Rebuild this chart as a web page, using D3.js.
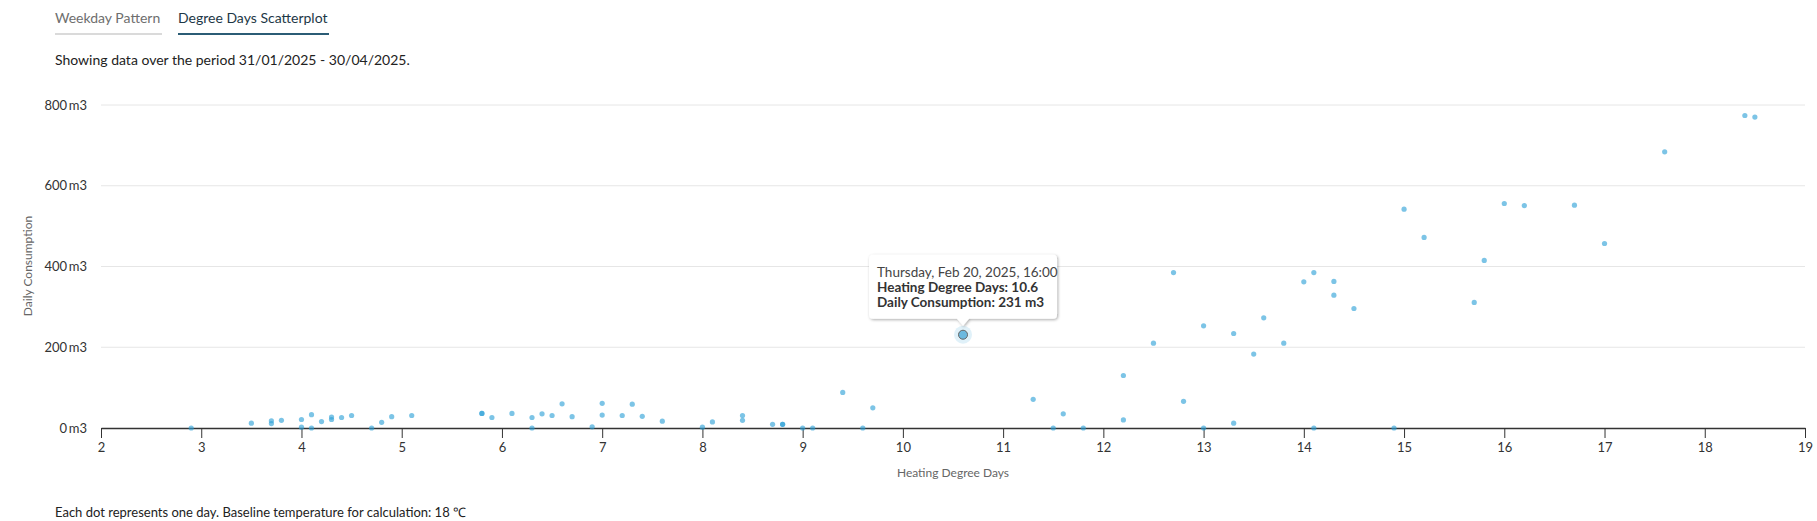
<!DOCTYPE html>
<html>
<head>
<meta charset="utf-8">
<script src="https://cdn.jsdelivr.net/npm/d3@7"></script>
<style>
  body { margin: 0; background: #fff; font-family: Lato, "Open Sans", sans-serif; }
  svg text { font-family: Lato, "Open Sans", sans-serif; }
</style>
</head>
<body>
<div id="chart"></div>
<script>
// heating degree days per day
var hdd = [2.9, 3.5, 3.7, 3.7, 3.8, 4.0, 4.0, 4.1, 4.1, 4.2, 4.3, 4.3, 4.4, 4.5, 4.7, 4.8, 4.9, 5.1,
    5.8, 5.8, 5.9, 6.1, 6.3, 6.3, 6.4, 6.5, 6.6, 6.7, 6.9, 7.0, 7.0, 7.2, 7.3, 7.4, 7.6,
    8.0, 8.1, 8.4, 8.4, 8.7, 8.8, 8.8, 9.0, 9.1, 9.4, 9.6, 9.7, 10.6, 11.3, 11.5, 11.6, 11.8,
    12.2, 12.2, 12.5, 12.7, 12.8, 13.0, 13.0, 13.3, 13.3, 13.5, 13.6, 13.8, 14.0, 14.1, 14.1,
    14.3, 14.3, 14.5, 14.9, 15.0, 15.2, 15.7, 15.8, 16.0, 16.2, 16.7, 17.0, 17.6, 18.4, 18.5];
// daily consumption (m3), same order
var consumption = [0, 12, 18, 11, 19, 2, 21, 33, 0, 16, 27, 21, 26, 31, 0, 14, 28, 31,
    36, 36, 26, 36, 26, 0, 35, 31, 60, 28, 3, 61, 32, 31, 59, 29, 17,
    2, 15, 19, 31, 9, 9, 9, 0, 0, 88, 0, 50, 231, 71, 0, 35, 0,
    130, 20, 210, 385, 66, 253, 0, 12, 234, 183, 273, 210, 362, 385, 0,
    363, 329, 296, 0, 542, 472, 311, 415, 556, 551, 552, 457, 684, 774, 770];

var xTicks = [2, 3, 4, 5, 6, 7, 8, 9, 10, 11, 12, 13, 14, 15, 16, 17, 18, 19];
var yTicks = [0, 200, 400, 600, 800];
var tabs = ["Weekday Pattern", "Degree Days Scatterplot"];

// the hovered point in the screenshot
var hoverIndex = 47;
var hoverLines = ["Thursday, Feb 20, 2025, 16:00", "Heating Degree Days: 10.6", "Daily Consumption: 231 m3"];

var W = 1817, H = 521;
var svg = d3.select("#chart").append("svg")
    .attr("width", W)
    .attr("height", H);

// tabs on top
var tabX = [55, 178], tabW = [107, 151];
tabs.forEach(function(t, i) {
    svg.append("text")
        .attr("x", tabX[i]).attr("y", 23)
        .attr("font-size", "14px")
        .attr("fill", i == 1 ? "#1d3746" : "#6e6e6e")
        .text(t);
    svg.append("rect")
        .attr("x", tabX[i]).attr("y", 33)
        .attr("width", tabW[i]).attr("height", 2)
        .attr("fill", i == 1 ? "#2b5c75" : "#dadada");
});

svg.append("text")
    .attr("x", 55).attr("y", 65)
    .attr("font-size", "14px")
    .attr("fill", "#222")
    .text("Showing data over the period 31/01/2025 - 30/04/2025.");

var x = d3.scaleLinear().domain([2, 19]).range([101, 1805]);
var y = d3.scaleLinear().domain([0, 800]).range([428, 105]);

// horizontal grid
svg.append("g")
    .selectAll("line")
    .data(yTicks.slice(1))
    .enter()
    .append("line")
    .attr("x1", 101).attr("x2", 1805)
    .attr("y1", function(d) { return y(d); })
    .attr("y2", function(d) { return y(d); })
    .attr("stroke", "#e6e6e6")
    .attr("stroke-width", 1);

// y labels
svg.append("g")
    .selectAll("text")
    .data(yTicks)
    .enter()
    .append("text")
    .attr("x", 87)
    .attr("y", function(d) { return y(d) + 4.5; })
    .attr("text-anchor", "end")
    .attr("font-size", "13px")
    .attr("fill", "#333")
    .text(function(d) { return d + "\u2009m3"; });

svg.append("text")
    .attr("transform", "translate(32,266) rotate(-90)")
    .attr("text-anchor", "middle")
    .attr("font-size", "12px")
    .attr("fill", "#666")
    .text("Daily Consumption");

// x axis
var xAxis = d3.axisBottom(x)
    .tickValues(xTicks)
    .tickSize(10)
    .tickSizeOuter(0)
    .tickPadding(5);
var gx = svg.append("g")
    .attr("transform", "translate(0,428)")
    .call(xAxis);
gx.select(".domain").attr("stroke", "#333").attr("stroke-width", 1.5);
gx.selectAll(".tick line").attr("stroke", "#333");
gx.selectAll(".tick text")
    .attr("font-family", "Lato, sans-serif")
    .attr("font-size", "13px")
    .attr("fill", "#333");

svg.append("text")
    .attr("x", 953).attr("y", 477)
    .attr("text-anchor", "middle")
    .attr("font-size", "12px")
    .attr("fill", "#666")
    .text("Heating Degree Days");

// the dots
svg.append("g")
    .attr("class", "dots")
    .selectAll("circle")
    .data(hdd.map(function(h, i) { return {x: h, y: consumption[i]}; }))
    .enter()
    .append("circle")
    .attr("cx", function(d) { return x(d.x); })
    .attr("cy", function(d) { return y(d.y); })
    .attr("r", 2.6)
    .attr("fill", "rgb(44,160,215)")
    .attr("fill-opacity", 0.62);

// hover state
var hx = x(hdd[hoverIndex]), hy = y(consumption[hoverIndex]);
svg.append("circle")
    .attr("cx", hx).attr("cy", hy).attr("r", 9)
    .attr("fill", "rgb(44,160,215)")
    .attr("fill-opacity", 0.15);
svg.append("circle")
    .attr("cx", hx).attr("cy", hy).attr("r", 4.5)
    .attr("fill", "#6cb9df")
    .attr("stroke", "#666")
    .attr("stroke-width", 1);

// tooltip
var defs = svg.append("defs");
var f = defs.append("filter").attr("id", "shadow")
    .attr("x", "-10%").attr("y", "-20%").attr("width", "125%").attr("height", "150%");
f.append("feDropShadow")
    .attr("dx", 1).attr("dy", 1).attr("stdDeviation", 1.6)
    .attr("flood-color", "#000").attr("flood-opacity", 0.35);

var tw = 188, th = 64;
var tx = hx - tw / 2, ty = hy - 16 - th;
var tip = svg.append("g").attr("filter", "url(#shadow)");
tip.append("path")
    .attr("d", "M" + (tx + 4) + "," + ty +
        " h" + (tw - 8) + " q4,0 4,4 v" + (th - 8) + " q0,4 -4,4" +
        " H" + (hx + 6) + " L" + hx + "," + (ty + th + 7) + " L" + (hx - 6) + "," + (ty + th) +
        " H" + (tx + 4) + " q-4,0 -4,-4 v" + (-(th - 8)) + " q0,-4 4,-4 z")
    .attr("fill", "#fff");
hoverLines.forEach(function(l, i) {
    svg.append("text")
        .attr("x", tx + 8).attr("y", ty + 22 + i * 15)
        .attr("font-size", "13.5px")
        .attr("font-weight", i == 0 ? "normal" : "bold")
        .attr("fill", i == 0 ? "#444" : "#333")
        .text(l);
});

svg.append("text")
    .attr("x", 55).attr("y", 517)
    .attr("font-size", "13px")
    .attr("fill", "#222")
    .text("Each dot represents one day. Baseline temperature for calculation: 18 \u2103");
</script>
</body>
</html>
